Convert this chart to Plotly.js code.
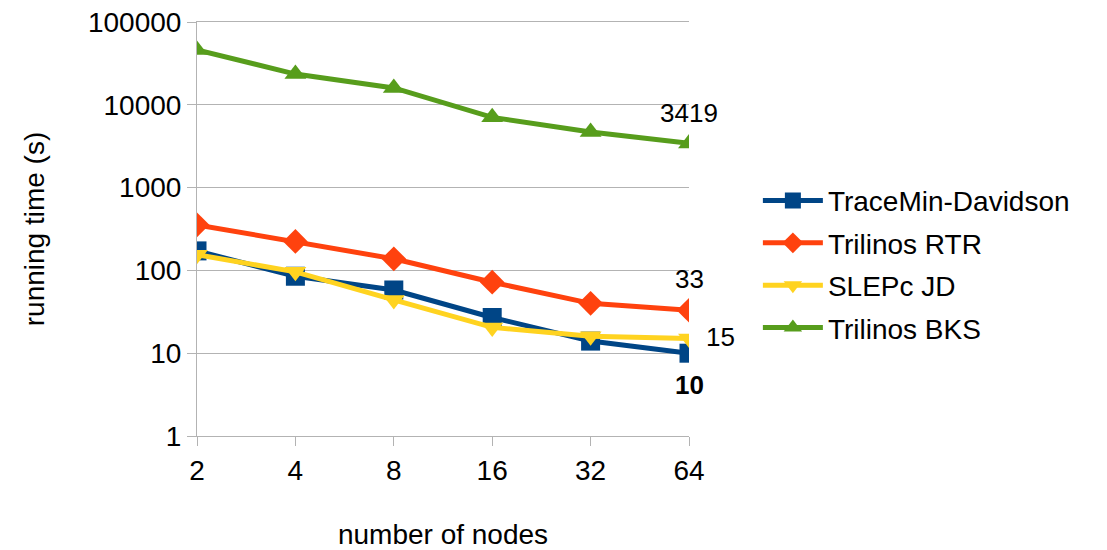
<!DOCTYPE html>
<html>
<head>
<meta charset="utf-8">
<script src="https://cdn.plot.ly/plotly-3.0.1.min.js"></script>
<style>html,body{margin:0;padding:0;background:#fff;}#chart{width:1107px;height:550px;}</style>
</head>
<body>
<div id="chart"></div>
<script>
const nodes = ["2", "4", "8", "16", "32", "64"];
const traceMin = [172, 85, 58, 27, 14, 10];
const trilinosRTR = [355, 224, 138, 72, 40, 33];
const slepcJD = [155, 96, 44, 20.5, 16, 15];
const trilinosBKS = [46000, 23500, 16000, 7050, 4700, 3419];

const FONT = "Liberation Sans, Arial, sans-serif";
const last = nodes.length - 1;

function series(name, y, color, symbol) {
  return {
    type: "scatter", mode: "lines+markers", name: name, legendgroup: name,
    x: nodes, y: y,
    line: {color: color, width: 5},
    marker: {color: color, symbol: symbol, size: 19, line: {width: 0}}
  };
}

const data = [
  series("TraceMin-Davidson", traceMin, "#004586", "square"),
  series("Trilinos RTR", trilinosRTR, "#ff420e", "diamond"),
  series("SLEPc JD", slepcJD, "#ffd320", "triangle-down"),
  series("Trilinos BKS", trilinosBKS, "#579d1c", "triangle-up")
];

const annotations = [
  {y: Math.log10(trilinosBKS[last]), text: String(trilinosBKS[last]), yshift: 30},
  {y: Math.log10(trilinosRTR[last]), text: String(trilinosRTR[last]), yshift: 31},
  {y: Math.log10(slepcJD[last]), text: String(slepcJD[last]), xshift: 31, yshift: 2},
  {y: Math.log10(traceMin[last]), text: "<b>" + traceMin[last] + "</b>", yshift: -32}
].map(a => Object.assign(a, {x: last, xref: "x", yref: "y", showarrow: false,
                             font: {family: FONT, size: 26, color: "#000"}}));

const layout = {
  width: 1107, height: 550,
  margin: {l: 197, r: 418, t: 22, b: 114},
  paper_bgcolor: "#fff", plot_bgcolor: "#fff",
  font: {family: FONT, size: 28, color: "#000"},
  showlegend: true,
  legend: {x: 1.14, y: 0.415, xanchor: "left", yanchor: "middle",
           font: {family: FONT, size: 28, color: "#000"},
           itemwidth: 60, tracegroupgap: 3, bgcolor: "rgba(0,0,0,0)"},
  xaxis: {
    type: "category", range: [0, last],
    showgrid: false, zeroline: false,
    showline: true, linecolor: "#b3b3b3", linewidth: 1, mirror: true,
    ticks: "outside", ticklen: 9, tickcolor: "#b3b3b3",
    tickfont: {family: FONT, size: 28},
    title: {text: "number of nodes", font: {family: FONT, size: 28}, standoff: 40}
  },
  yaxis: {
    type: "log", range: [0, 5],
    tickvals: [1, 10, 100, 1000, 10000, 100000],
    ticktext: ["1", "10", "100", "1000", "10000", "100000"],
    showgrid: true, gridcolor: "#b3b3b3", gridwidth: 1,
    zeroline: false, showline: true, linecolor: "#b3b3b3", linewidth: 1,
    ticks: "outside", ticklen: 9, tickcolor: "#b3b3b3",
    tickfont: {family: FONT, size: 28},
    title: {text: "running time (s)", font: {family: FONT, size: 28}, standoff: 35}
  },
  annotations: annotations
};

Plotly.newPlot("chart", data, layout, {staticPlot: true, displayModeBar: false});
</script>
</body>
</html>
